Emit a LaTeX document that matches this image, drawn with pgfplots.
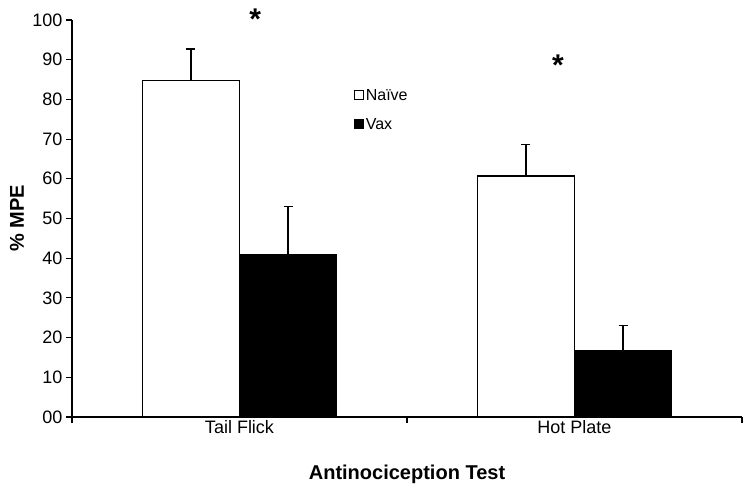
\documentclass[border=0pt]{standalone}
\usepackage{fontspec}
\setmainfont{Liberation Sans}
\usepackage{pgfplots}
\pgfplotsset{compat=1.18}
\begin{document}
\begin{tikzpicture}
\useasboundingbox (-72pt,-75pt) rectangle (678pt,417pt);
\begin{axis}[
  scale only axis, width=670pt, height=397pt,
  at={(0pt,0pt)}, anchor=south west,
  xmin=0, xmax=2, ymin=0, ymax=100,
  axis x line*=bottom, axis y line*=left,
  axis line style={line width=1.2pt, -},
  xtick={0,1,2}, xticklabels={},
  extra x ticks={0.5,1.5},
  extra x tick labels={Tail Flick, Hot Plate},
  extra x tick style={major tick length=0pt},
  ytick={0,10,...,100},
  yticklabels={00,10,20,30,40,50,60,70,80,90,100},
  tick align=outside, major tick length=6pt,
  tick style={line width=1.1pt, black},
  tick label style={font=\fontsize{18}{19}\selectfont},
  /pgf/number format/assume math mode=true,
  xlabel={\textbf{Antinociception Test}},
  ylabel={\textbf{\% MPE}},
  xlabel style={font=\fontsize{20}{22}\selectfont, at={(axis description cs:0.5,-0.144)}, anchor=center},
  ylabel style={font=\fontsize{20}{22}\selectfont, at={(axis description cs:-0.082,0.5)}, anchor=center},
  legend style={at={(axis description cs:0.416,0.835)}, anchor=north west, draw=none, fill=none,
    font=\fontsize{16}{18}\selectfont, row sep=12pt, cells={anchor=west}},
  clip=false,
]
\addplot[ybar, bar width=0.29, bar shift=0, fill=white, draw=black, line width=1.2pt,
  legend image code/.code={\draw[fill=white,draw=black,line width=0.9pt] (0pt,-3.5pt) rectangle (9pt,5.5pt);},
  error bars/.cd, y dir=plus, y explicit,
  error bar style={line width=1.2pt, black},
  error mark options={rotate=90, mark size=4.5pt, line width=1.2pt, black}]
  coordinates {(0.355,84.7) +- (0,8.0) (1.355,60.7) +- (0,8.0)};
\addlegendentry{Naïve}
\addplot[ybar, bar width=0.29, bar shift=0, fill=black, draw=black, line width=1.2pt,
  legend image code/.code={\draw[fill=black,draw=black,line width=0.9pt] (0pt,-3.5pt) rectangle (9pt,5.5pt);},
  error bars/.cd, y dir=plus, y explicit,
  error bar style={line width=1.2pt, black},
  error mark options={rotate=90, mark size=4.5pt, line width=1.2pt, black}]
  coordinates {(0.645,40.8) +- (0,12.3) (1.645,16.7) +- (0,6.3)};
\addlegendentry{Vax}
\node[font=\bfseries\fontsize{30}{30}\selectfont] at (axis cs:0.547,100.3) {*};
\node[font=\bfseries\fontsize{30}{30}\selectfont] at (axis cs:1.451,88.6) {*};
\end{axis}
\end{tikzpicture}
\end{document}
